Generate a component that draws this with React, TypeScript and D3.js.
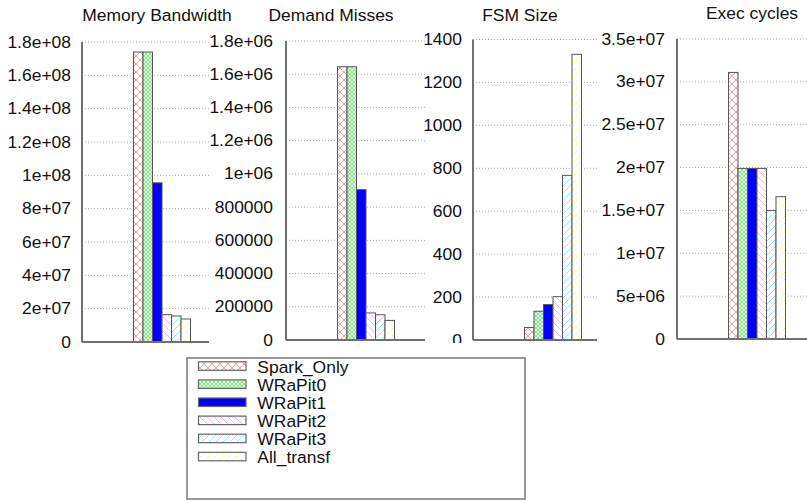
import * as d3 from "d3";

const series = ["Spark_Only", "WRaPit0", "WRaPit1", "WRaPit2", "WRaPit3", "All_transf"];

const memoryBandwidth = [1.74e8, 1.74e8, 9.55e7, 1.64e7, 1.56e7, 1.38e7];
const demandMisses = [1.645e6, 1.645e6, 9.05e5, 1.63e5, 1.52e5, 1.18e5];
const fsmSize = [58, 134, 165, 202, 767, 1331];
const execCycles = [3.11e7, 1.99e7, 1.99e7, 1.99e7, 1.5e7, 1.66e7];

const titles = ["Memory Bandwidth", "Demand Misses", "FSM Size", "Exec cycles"];
const yMax = [1.8e8, 1.8e6, 1400, 3.5e7];
const yStep = [2e7, 2e5, 200, 5e6];

// layout of each small panel (pixels)
const panels = [
  { values: memoryBandwidth, axisX: 82, right: 209, top: 42, bottom: 342, labelX: 71, titleX: 157, titleY: 20.5 },
  { values: demandMisses, axisX: 286, right: 425, top: 41, bottom: 340, labelX: 273, titleX: 331, titleY: 20.5 },
  { values: fsmSize, axisX: 473, right: 597, top: 39.5, bottom: 340, labelX: 462, titleX: 520, titleY: 20.5, clipY: 343 },
  { values: execCycles, axisX: 677, right: 807, top: 39, bottom: 339, labelX: 665, titleX: 752, titleY: 18.5 },
];

const FILLS = ["url(#p0)", "url(#p1)", "#0000ff", "url(#p3)", "url(#p4)", "url(#p5)"];
const FONT = "'Liberation Sans', Arial, sans-serif";
const SX = 1.12; // gnuplot text is a bit wider than Arial

// %g-like formatting used by gnuplot
function gfmt(v: number) {
  if (v === 0) return "0";
  const e = Math.floor(Math.log10(Math.abs(v)) + 1e-9);
  if (e < 6) return String(Math.round(v));
  const m = +(v / 10 ** e).toPrecision(6);
  return `${m}e+${String(e).padStart(2, "0")}`;
}

function Label({ x, y, anchor, children }: { x: number; y: number; anchor: string; children: string }) {
  return (
    <text
      transform={`translate(${x},${y}) scale(${SX},1)`}
      textAnchor={anchor}
      fontFamily={FONT}
      fontSize={15.6}
      fill="#111"
    >
      {children}
    </text>
  );
}

function Panel({ idx }: { idx: number }) {
  const p = panels[idx];
  const y = d3.scaleLinear().domain([0, yMax[idx]]).range([p.bottom, p.top]);
  const x = d3
    .scaleBand<string>()
    .domain(series)
    .range([p.axisX + 51.5, p.axisX + 108.5])
    .padding(0);
  const ticks = d3.range(0, yMax[idx] + yStep[idx] / 2, yStep[idx]);
  const clipId = `clip${idx}`;

  return (
    <g>
      {p.clipY && (
        <clipPath id={clipId}>
          <rect x={0} y={0} width={807} height={p.clipY} />
        </clipPath>
      )}
      {ticks.map((t) => (
        <g key={t}>
          {t > 0 && (
            <line
              x1={p.axisX}
              x2={p.right}
              y1={y(t)}
              y2={y(t)}
              stroke="#aaa"
              strokeWidth={1}
              strokeDasharray="1,2"
            />
          )}
          <g clipPath={p.clipY ? `url(#${clipId})` : undefined}>
            <Label x={p.labelX} y={y(t) + 5.5} anchor="end">
              {gfmt(t)}
            </Label>
          </g>
        </g>
      ))}
      {series.map((s, i) => (
        <rect
          key={s}
          x={x(s)}
          y={y(p.values[i])}
          width={x.bandwidth()}
          height={y(0) - y(p.values[i])}
          fill={FILLS[i]}
          stroke="#555"
          strokeWidth={1}
        />
      ))}
      <line x1={p.axisX} x2={p.axisX} y1={p.top} y2={p.bottom} stroke="#707070" strokeWidth={2} />
      <line x1={p.axisX} x2={p.right} y1={p.bottom} y2={p.bottom} stroke="#707070" strokeWidth={2} />
      <Label x={p.titleX} y={p.titleY} anchor="middle">
        {titles[idx]}
      </Label>
    </g>
  );
}

export default function App() {
  const legendRow = d3.scaleLinear().domain([0, 1]).range([366, 384.1]);

  return (
    <svg
      width={807}
      height={503}
      style={{ position: "absolute", left: 0, top: 0, background: "#fff" }}
    >
      <defs>
        <pattern id="p0" patternUnits="userSpaceOnUse" width={8} height={8}>
          <rect width={8} height={8} fill="#fff" />
          <path d="M0,0L8,8M8,0L0,8" stroke="#f29a9a" strokeWidth={1} />
        </pattern>
        <pattern id="p1" patternUnits="userSpaceOnUse" width={4} height={4}>
          <rect width={4} height={4} fill="#dff8df" />
          <path d="M0,0L4,4M4,0L0,4" stroke="#84e284" strokeWidth={0.9} />
        </pattern>
        <pattern id="p3" patternUnits="userSpaceOnUse" width={7} height={7}>
          <rect width={7} height={7} fill="#fff" />
          <path d="M0,0L7,7M-1,6L1,8M6,-1L8,1" stroke="#ffa6ff" strokeWidth={0.9} />
        </pattern>
        <pattern id="p4" patternUnits="userSpaceOnUse" width={7} height={7}>
          <rect width={7} height={7} fill="#fff" />
          <path d="M0,7L7,0M-1,1L1,-1M6,8L8,6" stroke="#7fe6f5" strokeWidth={0.9} />
        </pattern>
        <pattern id="p5" patternUnits="userSpaceOnUse" width={7} height={7}>
          <rect width={7} height={7} fill="#fff" />
          <path d="M0,7L7,0M-1,1L1,-1M6,8L8,6" stroke="#f2f07a" strokeWidth={0.9} strokeDasharray="1.5,1" />
        </pattern>
      </defs>

      {panels.map((_, i) => (
        <Panel key={i} idx={i} />
      ))}

      {/* legend */}
      <rect x={187} y={358} width={338} height={141} fill="none" stroke="#777" strokeWidth={1.5} />
      {series.map((s, i) => (
        <g key={s}>
          <rect
            x={198.5}
            y={legendRow(i) - 4.2}
            width={47.5}
            height={8.5}
            fill={FILLS[i]}
            stroke="#666"
            strokeWidth={1.2}
          />
          <Label x={257.3} y={legendRow(i) + 6.5} anchor="start">
            {s}
          </Label>
        </g>
      ))}
    </svg>
  );
}
